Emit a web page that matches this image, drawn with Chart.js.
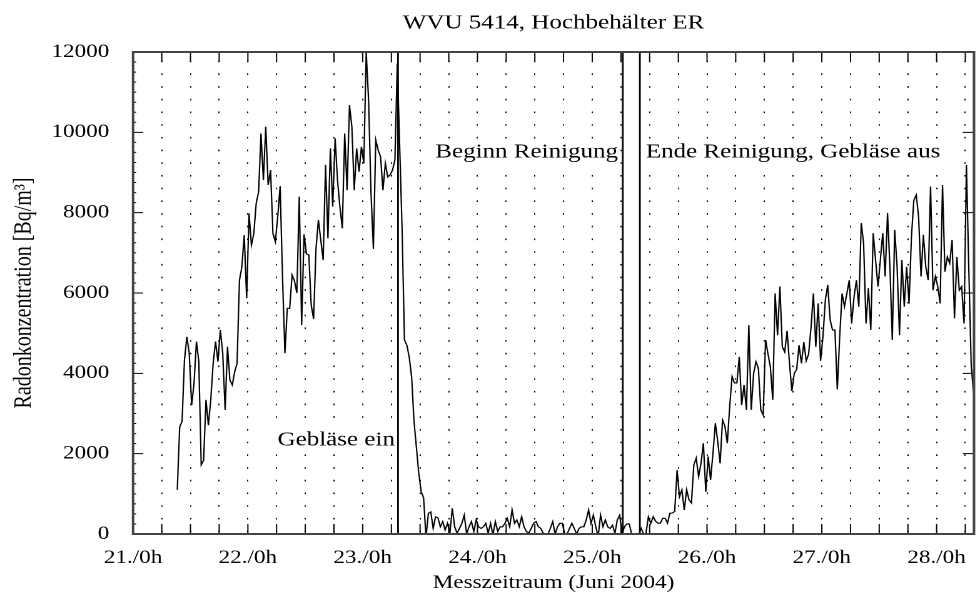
<!DOCTYPE html>
<html>
<head>
<meta charset="utf-8">
<script src="https://cdn.jsdelivr.net/npm/chart.js@4.4.1/dist/chart.umd.min.js"></script>
<style>
  html, body { margin:0; padding:0; background:#fff; overflow:hidden; }
  #wrap { position:absolute; left:0; top:0; height:602px; transform-origin:0 0; }
</style>
</head>
<body>
<div id="wrap"><canvas id="chart"></canvas></div>
<script>
// half-hourly radon readings, one array per calendar day (Bq/m³)
const START = 21.385;   // first reading (day of June 2004)
const STEP = 1 / 48;    // 30 min

const day21 = [1100, 2670, 2800, 4330, 4910, 4500, 3210, 3750, 4790, 4290, 1720, 1840, 3340, 2710, 3340,
  4250, 4790, 4290, 5080, 4500, 3090, 4660, 3830, 3710, 4040, 4250, 6320, 6650, 7440, 5870];
const day22 = [7980, 7190, 7480, 8230, 8520, 9970, 8810, 10140, 8690, 9060, 7480, 7280, 7900, 8660, 6400, 4500,
  5620, 5620, 6450, 6300, 6000, 8400, 5200, 7460, 6970, 6950, 5700, 5350, 7100, 7820, 7320, 6820,
  9190, 7360, 9600, 8150, 9850, 8810, 8150, 7610, 9970, 8560, 10680, 10140, 8560, 9600, 9020, 9640];
const day23 = [9230, 12000, 10800, 8500, 7100, 9810, 9560, 9390, 8560, 9230, 8890, 8940, 9060, 9310, 11720, 9640,
  7600, 4830, 4700, 4400, 3900, 2800, 2150, 1500, 1050, 900, -80, 515, 550, 140, 430, 400,
  180, 310, 100, 265, 20, 640, 180, 20, 140, 265, 470, 0, 180, 310, 60, 350];
const day24 = [180, 140, 180, 265, 20, 265, -20, 310, 60, 180, 180, 265, 390, 180, 600, 265,
  350, 180, 430, 180, 60, 20, 140, 265, 310, 180, 140, 20, 0, 0, 140, 310,
  0, 180, 265, 265, 0, 0, 140, 265, 140, 0, 140, 180, 180, 350, 600, 265];
const day25 = [470, 180, -60, 470, 180, 350, 180, 140, 220, 20, 350, 470, 0, 180, 250, 250,
  0, 0, 0, 0, 140, 0, 20, 430, 265, 430, 320, 270, 270, 390, 390, 270,
  520, 520, 560, 1590, 930, 1100, 600, 1100, 850, 770, 1720, 1890, 1430, 1760, 2260, 1050];
const day26 = [1930, 1350, 2010, 2760, 2300, 1760, 2840, 2680, 2260, 3180, 3920, 3760, 3760, 4410, 3210, 3710,
  3090, 5200, 3090, 4000, 4290, 4120, 3090, 2960, 4830, 4490, 4160, 3340, 5990, 4950, 6160, 4660,
  4530, 5060, 4250, 3560, 4000, 4100, 4700, 4250, 4780, 4310, 4480, 5140, 5990, 4660, 5740, 4310];
const day27 = [4910, 5830, 6200, 5330, 5080, 5080, 3600, 4910, 5990, 5660, 5990, 6320, 5240, 5910, 6320, 5660,
  7740, 7240, 5240, 6120, 5080, 7490, 6820, 6160, 6820, 7490, 6410, 7990, 6650, 4830, 7570, 6650,
  4950, 6820, 5660, 6650, 5740, 7400, 8310, 8440, 7900, 6410, 7450, 6650, 6320, 8650, 6070, 6410];
const day28 = [6160, 5740, 8690, 6530, 6900, 6740, 7320, 5370, 6900, 6070, 6160, 5240, 9190, 6570, 4170, 3500];

// fan on, cleaning start, cleaning end / fan off
const EVENT_DAYS = [23.308, 25.266, 25.415];
const NOTES = [
  {text: 'Gebläse ein', day: 23.281, value: 2340, align: 'right'},
  {text: 'Beginn Reinigung', day: 25.225, value: 9510, align: 'right'},
  {text: 'Ende Reinigung, Gebläse aus', day: 25.467, value: 9510, align: 'left'}
];

const X_MIN = 21, X_MAX = 28.326, X_STEP = 0.25;
const Y_MIN = 0, Y_MAX = 12000, Y_STEP = 2000, Y_MINOR = 250;

const SX = 1.25; // the original figure is stretched horizontally
document.getElementById('wrap').style.width = (981 / SX) + 'px';
document.getElementById('wrap').style.transform = `scaleX(${SX})`;

const radon = [...day21, ...day22, ...day23, ...day24, ...day25, ...day26, ...day27, ...day28];
const series = radon.map((v, i) => ({x: START + i * STEP, y: v}));

const eventSets = EVENT_DAYS.map(d => ({
  data: [{x: d, y: Y_MIN}, {x: d, y: Y_MAX}],
  borderColor: '#000', borderWidth: 1.4, pointRadius: 0
}));

const notes = {
  id: 'notes',
  beforeDatasetsDraw(chart){
    const {ctx, scales: {x, y}} = chart;
    ctx.save();
    ctx.font = '20px "Liberation Serif", serif';
    ctx.textBaseline = 'middle';
    NOTES.forEach(n => {
      const px = x.getPixelForValue(n.day), py = y.getPixelForValue(n.value);
      const w = ctx.measureText(n.text).width;
      const x0 = n.align === 'right' ? px - w : px;
      ctx.fillStyle = '#fff';
      ctx.fillRect(x0 - 2, py - 12, w + 4, 24);
      ctx.fillStyle = '#000';
      ctx.textAlign = n.align;
      ctx.fillText(n.text, px, py);
    });
    ctx.restore();
  }
};

const frame = {
  id: 'frame',
  afterDatasetsDraw(chart){
    const {ctx, chartArea: {left, right, top, bottom}, scales: {x, y}} = chart;
    ctx.save();
    ctx.strokeStyle = '#000';
    ctx.lineWidth = 1;
    ctx.beginPath();
    x.ticks.forEach(t => {
      const px = x.getPixelForValue(t.value);
      ctx.moveTo(px, bottom); ctx.lineTo(px, bottom - 10);
      ctx.moveTo(px, top); ctx.lineTo(px, top + 10);
    });
    for (let v = Y_MIN; v <= Y_MAX; v += Y_MINOR) {
      const py = y.getPixelForValue(v);
      const major = v % Y_STEP === 0;
      ctx.moveTo(left, py); ctx.lineTo(left + (major ? 8 : 2.5), py);
      if (major) { ctx.moveTo(right, py); ctx.lineTo(right - 9, py); }
    }
    ctx.stroke();
    ctx.strokeStyle = '#444';
    ctx.lineWidth = 2;
    ctx.strokeRect(left, top, right - left, bottom - top);
    ctx.restore();
  }
};

Chart.defaults.font.family = '"Liberation Serif", "Times New Roman", serif';
Chart.defaults.font.size = 18.5;
Chart.defaults.color = '#000';

new Chart(document.getElementById('chart'), {
  type: 'line',
  data: {
    datasets: [
      {data: series, borderColor: '#000', borderWidth: 1.1, pointRadius: 0, tension: 0},
      ...eventSets
    ]
  },
  options: {
    responsive: true,
    maintainAspectRatio: false,
    devicePixelRatio: 2,
    animation: false,
    layout: {padding: 0},
    plugins: {
      legend: {display: false},
      tooltip: {enabled: false},
      title: {
        display: true, fullSize: false,
        text: 'WVU 5414, Hochbehälter ER',
        font: {size: 20, weight: 'normal'},
        padding: {top: 11, bottom: 17}
      }
    },
    scales: {
      x: {
        type: 'linear', min: X_MIN, max: X_MAX,
        afterFit: s => { s.height = 68; },
        border: {display: false, dash: [1.6, 11.1], dashOffset: 4},
        grid: {color: '#000', lineWidth: 1, drawTicks: false},
        ticks: {
          stepSize: X_STEP, autoSkip: false, maxRotation: 0, includeBounds: false, padding: 13,
          callback: v => Number.isInteger(v) ? v + './0h' : ''
        },
        title: {display: true, text: 'Messzeitraum (Juni 2004)', padding: {top: 0, bottom: 8}}
      },
      y: {
        min: Y_MIN, max: Y_MAX,
        afterFit: s => { s.width = 133 / SX; },
        border: {display: false},
        grid: {display: false},
        ticks: {stepSize: Y_STEP, padding: 11, callback: v => String(v)},
        title: {display: true, text: 'Radonkonzentration [Bq/m³]', font: {size: 20}, padding: {top: 7, bottom: 0}}
      }
    }
  },
  plugins: [notes, frame]
});
</script>
</body>
</html>
